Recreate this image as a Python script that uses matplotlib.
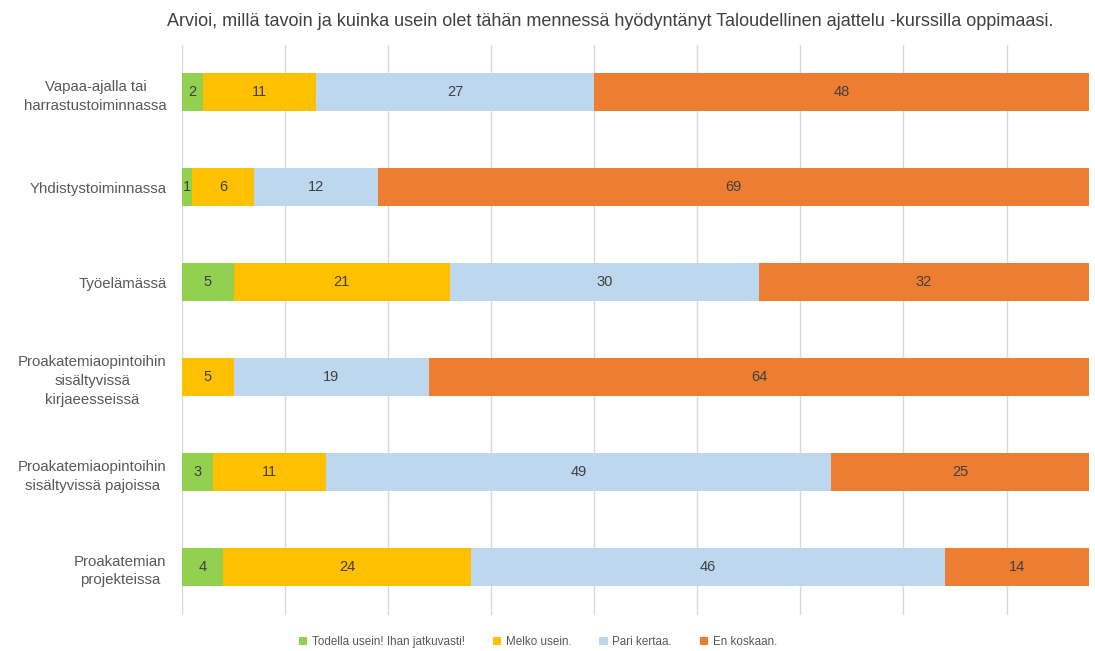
import numpy as np
import matplotlib.pyplot as plt

plt.rcParams['font.family'] = ['Liberation Sans', 'DejaVu Sans']

# data
categories = ['Vapaa-ajalla tai\nharrastustoiminnassa',
              'Yhdistystoiminnassa',
              'Työelämässä',
              'Proakatemiaopintoihin\nsisältyvissä\nkirjaeesseissä',
              'Proakatemiaopintoihin\nsisältyvissä pajoissa',
              'Proakatemian\nprojekteissa']
series_names = ['Todella usein! Ihan jatkuvasti!', 'Melko usein.', 'Pari kertaa.', 'En koskaan.']
todella = [2, 1, 5, 0, 3, 4]
melko = [11, 6, 21, 5, 11, 24]
pari = [27, 12, 30, 19, 49, 46]
en = [48, 69, 32, 64, 25, 14]
colors = ['#92D050', '#FFC000', '#BDD7EE', '#ED7D31']
title = 'Arvioi, millä tavoin ja kuinka usein olet tähän mennessä hyödyntänyt Taloudellinen ajattelu -kurssilla oppimaasi.'

fig = plt.figure(figsize=(10.95, 6.51), dpi=100)
ax = fig.add_axes([182/1095, 1 - 614.5/651, (1089-182)/1095, (614.5-45)/651])

y = np.arange(len(categories))
left = np.zeros(len(categories))
for name, vals, col in zip(series_names, [todella, melko, pari, en], colors):
    vals = np.array(vals, dtype=float)
    bars = ax.barh(y, vals, left=left, height=0.4, color=col, label=name, zorder=3)
    for b, v in zip(bars, vals):
        if v > 0:
            ax.text(b.get_x() + b.get_width()/2, b.get_y() + b.get_height()/2, f'{int(v)}',
                    ha='center', va='center', fontsize=10.5, color='#404040', zorder=4)
    left += vals

ax.set_xlim(0, left.max())
ax.set_ylim(len(categories) - 0.5, -0.5)
ax.set_xticks(np.arange(0, 81, 10))
ax.set_xticklabels([])
ax.tick_params(axis='x', length=0)
ax.tick_params(axis='y', length=0, pad=11)
ax.set_yticks(y)
ax.set_yticklabels(categories, fontsize=10.8, color='#595959')
for lbl in ax.get_yticklabels():
    lbl.set_multialignment('center')
    lbl.set_linespacing(1.45)
ax.grid(axis='x', color='#D9D9D9', linewidth=1, zorder=0)
for s in ax.spines.values():
    s.set_visible(False)

fig.text(610/1095, 1 - 21/651, title, ha='center', va='center', fontsize=13, color='#404040')

handles, labels = ax.get_legend_handles_labels()
fig.legend(handles, labels, loc='center', bbox_to_anchor=(538/1095, 1 - 642/651), ncol=4,
           frameon=False, fontsize=8.4, handlelength=0.7, handleheight=0.7, columnspacing=2.4,
           handletextpad=0.4, labelcolor='#595959')

fig.savefig('out.png', dpi=100)
